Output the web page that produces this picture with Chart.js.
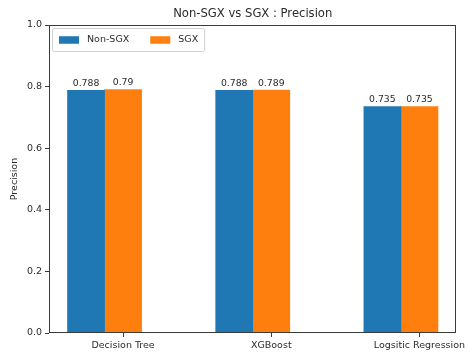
<!DOCTYPE html>
<html>
<head>
<meta charset="utf-8">
<script src="https://cdn.jsdelivr.net/npm/chart.js@4/dist/chart.umd.min.js"></script>
<style>
  html, body { margin: 0; padding: 0; background: #fff; }
  #wrap { width: 469px; height: 355px; }
</style>
</head>
<body>
<div id="wrap"><canvas id="chart" width="469" height="355"></canvas></div>
<script>
// Precision of each model, measured outside and inside an SGX enclave
const categories = ['Decision Tree', 'XGBoost', 'Logsitic Regression'];
const nonSgxPrecision = [0.788, 0.788, 0.735];
const sgxPrecision = [0.79, 0.789, 0.735];
const yTickValues = [0.0, 0.2, 0.4, 0.6, 0.8, 1.0];
const seriesNames = ['Non-SGX', 'SGX'];
const chartTitle = 'Non-SGX vs SGX : Precision';
const yAxisTitle = 'Precision';

const BAR_W = 0.25;          // bar width in category units
const FONT = 'DejaVu Sans';
const TEXT = '#2b2b2b';
const SPINE = '#3a3a3a';

// side-by-side bars: first series left of the tick, second centred on it
const pointsFor = (vals, shift) => vals.map((v, i) => ({ x: i + shift, y: v }));

// title centred over the plotting area
const titlePlugin = {
  id: 'axesTitle',
  afterDraw(chart) {
    const { ctx, chartArea } = chart;
    ctx.save();
    ctx.font = `11.6px "${FONT}"`;
    ctx.fillStyle = TEXT;
    ctx.textAlign = 'center';
    ctx.textBaseline = 'middle';
    ctx.fillText(chartTitle, (chartArea.left + chartArea.right) / 2, 14);
    ctx.restore();
  }
};

// closed frame round the plotting area
const framePlugin = {
  id: 'frame',
  afterDatasetsDraw(chart) {
    const { ctx, chartArea: a } = chart;
    ctx.save();
    ctx.strokeStyle = SPINE;
    ctx.lineWidth = 1;
    ctx.strokeRect(Math.round(a.left) + 0.5, Math.round(a.top) + 0.5,
                   Math.round(a.right - a.left) - 1, Math.round(a.bottom - a.top) - 1);
    ctx.restore();
  }
};

// value written above every bar
const valueLabelPlugin = {
  id: 'valueLabels',
  afterDatasetsDraw(chart) {
    const { ctx } = chart;
    ctx.save();
    ctx.font = `9.3px "${FONT}"`;
    ctx.fillStyle = TEXT;
    ctx.textAlign = 'center';
    ctx.textBaseline = 'bottom';
    chart.data.datasets.forEach((ds, di) => {
      chart.getDatasetMeta(di).data.forEach((bar, i) => {
        ctx.fillText(String(ds.data[i].y), bar.x, bar.y - 2);
      });
    });
    ctx.restore();
  }
};

// legend box in the upper-left corner of the plotting area
const cornerLegendPlugin = {
  id: 'cornerLegend',
  afterDraw(chart) {
    const { ctx, chartArea: a } = chart;
    const fs = 9.5;
    ctx.save();
    ctx.font = `${fs}px "${FONT}"`;
    const x0 = a.left + 3, y0 = a.top + 3;
    const handleW = 20, handleH = 7.5, gapText = 8, colGap = 21;
    let w = 7;
    const items = chart.data.datasets.map(ds => {
      const tw = ctx.measureText(ds.label).width;
      const it = { label: ds.label, color: ds.backgroundColor, x: x0 + w, tw };
      w += handleW + gapText + tw + colGap;
      return it;
    });
    w = w - colGap + 6;
    const h = 23;
    ctx.beginPath();
    ctx.roundRect(x0 + 0.5, y0 + 0.5, w, h, 2);
    ctx.fillStyle = 'rgba(255,255,255,0.8)';
    ctx.fill();
    ctx.strokeStyle = '#d0d0d0';
    ctx.lineWidth = 1;
    ctx.stroke();
    const cy = y0 + h / 2 + 0.5;
    ctx.textBaseline = 'middle';
    ctx.textAlign = 'left';
    items.forEach(it => {
      ctx.fillStyle = it.color;
      ctx.fillRect(it.x, cy - handleH / 2, handleW, handleH);
      ctx.fillStyle = TEXT;
      ctx.fillText(it.label, it.x + handleW + gapText, cy);
    });
    ctx.restore();
  }
};

new Chart(document.getElementById('chart'), {
  type: 'bar',
  data: {
    datasets: [
      { label: seriesNames[0], data: pointsFor(nonSgxPrecision, -BAR_W), backgroundColor: '#1f77b4' },
      { label: seriesNames[1], data: pointsFor(sgxPrecision, 0), backgroundColor: '#ff7f0e' }
    ]
  },
  options: {
    responsive: false,
    animation: false,
    grouped: false,
    barPercentage: 1,
    categoryPercentage: 1,
    layout: { padding: { top: 25, right: 11, left: 0, bottom: 0 } },
    plugins: {
      legend: { display: false },
      title: { display: false },
      tooltip: { enabled: false }
    },
    scales: {
      x: {
        type: 'linear',
        min: -0.5,
        max: 2.25,
        offset: false,
        grid: { offset: false, drawOnChartArea: false, drawTicks: true, tickLength: 4, color: SPINE },
        border: { display: false },
        afterBuildTicks: s => { s.ticks = categories.map((_, i) => ({ value: i })); },
        afterFit: s => { s.height = 22; },
        ticks: {
          autoSkip: false,
          maxRotation: 0,
          padding: 3,
          color: TEXT,
          font: { family: FONT, size: 9.5 },
          callback: v => categories[v]
        }
      },
      y: {
        min: 0,
        max: 1,
        grid: { drawOnChartArea: false, drawTicks: true, tickLength: 4, color: SPINE },
        border: { display: false },
        afterBuildTicks: s => { s.ticks = yTickValues.map(v => ({ value: v })); },
        afterFit: s => { s.width = 49; },
        ticks: {
          padding: 3,
          color: TEXT,
          font: { family: FONT, size: 9.5 },
          callback: v => Number(v).toFixed(1)
        },
        title: {
          display: true,
          text: yAxisTitle,
          color: TEXT,
          font: { family: FONT, size: 9.5 },
          padding: { top: 9, bottom: 0 }
        }
      }
    }
  },
  plugins: [framePlugin, valueLabelPlugin, cornerLegendPlugin, titlePlugin]
});
</script>
</body>
</html>
